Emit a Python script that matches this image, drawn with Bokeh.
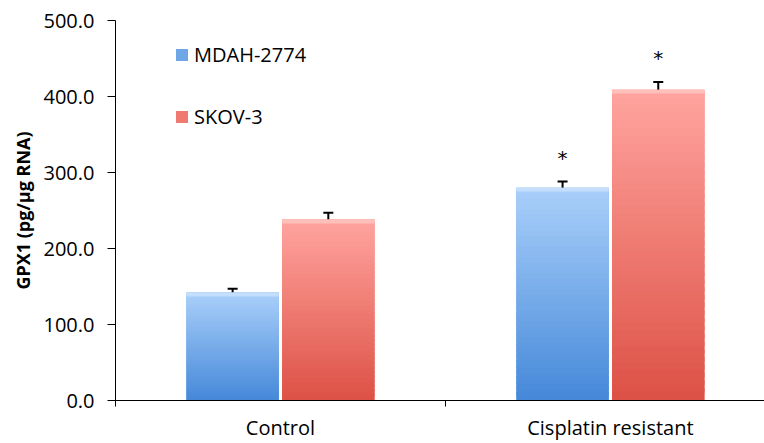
from bokeh.plotting import figure
from bokeh.models import (ColumnDataSource, Whisker, TeeHead, FixedTicker, Range1d,
                          Legend, LegendItem, PrintfTickFormatter)
from bokeh.core.properties import value
from bokeh.embed import file_html
from bokeh.resources import INLINE

# ---- data ----
categories = ["Control", "Cisplatin resistant"]
series = ["MDAH-2774", "SKOV-3"]
mdah = [142.0, 280.0]
mdah_err = [5.0, 8.0]
skov = [238.0, 409.0]
skov_err = [9.0, 10.0]
mdah_sig = ["", "*"]
skov_sig = ["", "*"]
y_ticks = [0, 100, 200, 300, 400, 500]

FONT = "Open Sans"
W = 0.28
OFF = 0.145
centers = [i + 0.5 for i in range(len(categories))]
bounds = list(range(len(categories) + 1))
x_mdah = [c - OFF for c in centers]
x_skov = [c + OFF for c in centers]

p = figure(width=764, height=443, output_backend="svg", toolbar_location=None,
           x_range=Range1d(0, 1.967), y_range=Range1d(0, 500),
           min_border_left=115, min_border_right=0, min_border_top=20, min_border_bottom=43)
p.outline_line_color = None
p.xgrid.visible = False
p.ygrid.visible = False
p.background_fill_color = "white"
p.border_fill_color = "white"


def hex2rgb(h):
    h = h.lstrip("#")
    return tuple(int(h[i:i + 2], 16) for i in (0, 2, 4))


def mix(c1, c2, t):
    a, b = hex2rgb(c1), hex2rgb(c2)
    return "#%02x%02x%02x" % tuple(int(round(a[k] + (b[k] - a[k]) * t)) for k in range(3))


def gradient_bars(xs, vals, bottom_col, top_col, n=40):
    d = dict(left=[], right=[], bottom=[], top=[], color=[])
    for x, v in zip(xs, vals):
        for i in range(n):
            t = i / (n - 1)
            d["left"].append(x - W / 2)
            d["right"].append(x + W / 2)
            d["bottom"].append(v * i / n)
            d["top"].append(min(v, v * (i + 1.6) / n))
            d["color"].append(mix(bottom_col, top_col, t))
    return ColumnDataSource(d)


base_m = p.vbar(x=x_mdah, top=mdah, width=W, fill_color="#6ea6e6", line_color=None)
base_s = p.vbar(x=x_skov, top=skov, width=W, fill_color="#ee7a70", line_color=None)

p.quad(left="left", right="right", bottom="bottom", top="top", fill_color="color",
       line_color=None, source=gradient_bars(x_mdah, mdah, "#4689d9", "#a9cffa"))
p.quad(left="left", right="right", bottom="bottom", top="top", fill_color="color",
       line_color=None, source=gradient_bars(x_skov, skov, "#dd5246", "#ffa39e"))

# subtle bevel highlight on bar tops
p.vbar(x=x_mdah, bottom=[v - 5 for v in mdah], top=mdah, width=W, fill_color="#e0f0ff",
       fill_alpha=0.5, line_color=None)
p.vbar(x=x_skov, bottom=[v - 5 for v in skov], top=skov, width=W, fill_color="#ffdcd8",
       fill_alpha=0.5, line_color=None)

# error bars
for xs, vals, errs in ((x_mdah, mdah, mdah_err), (x_skov, skov, skov_err)):
    src = ColumnDataSource(dict(x=xs, up=[v + e for v, e in zip(vals, errs)],
                                lo=[v - e for v, e in zip(vals, errs)]))
    wk = Whisker(base="x", upper="up", lower="lo", source=src, line_color="black", line_width=2,
                 upper_head=TeeHead(size=10, line_width=2, line_color="black"),
                 lower_head=TeeHead(size=10, line_width=2, line_color="black"))
    p.add_layout(wk)

# significance stars
for xs, vals, errs, sig in ((x_mdah, mdah, mdah_err, mdah_sig), (x_skov, skov, skov_err, skov_sig)):
    p.text(x=xs, y=[v + e for v, e in zip(vals, errs)], text=sig, y_offset=-24,
           text_align="center", text_baseline="middle", text_font=value("DejaVu Sans"),
           text_font_size="20px", text_color="black")

# axes
p.yaxis.ticker = FixedTicker(ticks=y_ticks)
p.yaxis.formatter = PrintfTickFormatter(format="%.1f")
p.yaxis.major_tick_in = 0
p.yaxis.major_tick_out = 8
p.yaxis.minor_tick_line_color = None
p.yaxis.major_label_standoff = 13
p.yaxis.major_label_text_font = FONT
p.yaxis.major_label_text_font_size = "20px"
p.yaxis.major_label_text_color = "black"
p.yaxis.axis_line_color = "black"
p.yaxis.major_tick_line_color = "black"
p.yaxis.axis_label = "GPX1 (pg/µg RNA)"
p.yaxis.axis_label_text_font = FONT
p.yaxis.axis_label_text_font_style = "bold"
p.yaxis.axis_label_text_font_size = "18px"
p.yaxis.axis_label_text_color = "black"
p.yaxis.axis_label_standoff = 6

# category labels at centres, tick marks at category boundaries (minor ticks)
p.xaxis.ticker = FixedTicker(ticks=centers, minor_ticks=bounds)
p.xaxis.major_label_overrides = {c: lab for c, lab in zip(centers, categories)}
p.xaxis.major_tick_in = 0
p.xaxis.major_tick_out = 0
p.xaxis.minor_tick_in = 0
p.xaxis.minor_tick_out = 6
p.xaxis.minor_tick_line_color = "black"
p.xaxis.major_label_standoff = 7
p.xaxis.major_label_text_font = FONT
p.xaxis.major_label_text_font_size = "20px"
p.xaxis.major_label_text_color = "black"
p.xaxis.axis_line_color = "black"

legend = Legend(items=[LegendItem(label=series[0], renderers=[base_m]),
                       LegendItem(label=series[1], renderers=[base_s])],
                location=(59, 270), orientation="vertical", spacing=35,
                glyph_width=15, glyph_height=15, label_standoff=5, padding=0, margin=0,
                border_line_color=None, background_fill_alpha=0,
                label_text_font=FONT, label_text_font_size="20px", label_text_color="black")
p.add_layout(legend)

open("out.html", "w").write(file_html(p, INLINE))
